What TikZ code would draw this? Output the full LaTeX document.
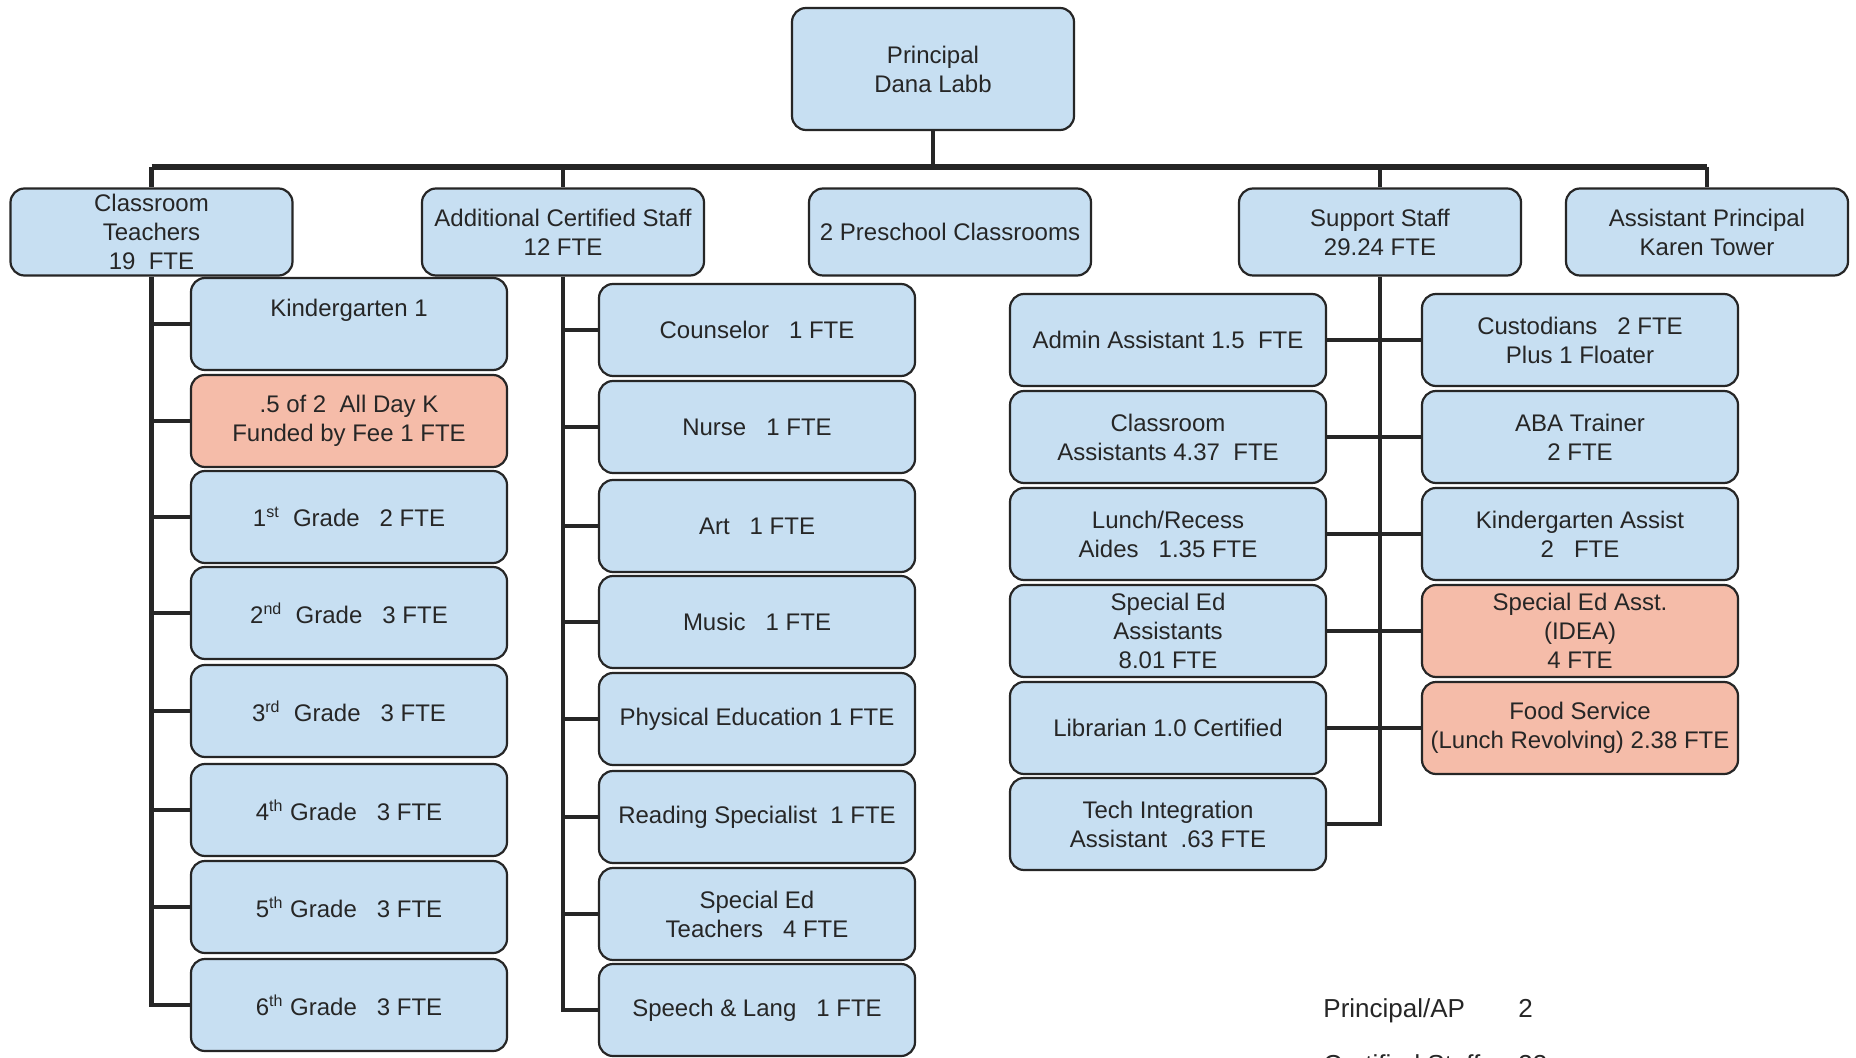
\documentclass[tikz,border=0pt]{standalone}
\usepackage{fontspec}
\setmainfont{Liberation Sans}
\definecolor{boxblue}{HTML}{C7DFF2}
\definecolor{boxsalmon}{HTML}{F5BCA9}
\definecolor{ink}{HTML}{262626}
\tikzset{
  orgbox/.style={draw=ink, line width=1.1pt, fill=boxblue, rounded corners=7pt,
    align=center, inner sep=1pt, text=ink, font=\fontsize{12}{14.5}\selectfont},
  headbox/.style={orgbox, minimum width=141pt, minimum height=43.5pt},
  unitbox/.style={orgbox, minimum width=158pt, minimum height=46pt},
  funded/.style={fill=boxsalmon},
  conn/.style={draw=ink, line width=2.2pt},
  bus/.style={draw=ink, line width=3.4pt},
  tally/.style={anchor=base west, inner sep=0pt, text=ink, font=\fontsize{13}{16}\selectfont},
}
\begin{document}
\begin{tikzpicture}[x=0.5pt, y=-0.5pt]
\fill[white] (0,0) rectangle (1856,1058);
\useasboundingbox (0,0) rectangle (1856,1058);

% principal and the five groups below
\node[orgbox, minimum width=141pt, minimum height=61pt] (prin) at (933,69) {Principal\\Dana Labb};
\node[headbox] (ct)  at (151.5,232) {Classroom\\Teachers\\19~~FTE};
\node[headbox] (acs) at (563,232) {Additional Certified Staff\\12 FTE};
\node[headbox] (pre) at (950,232) {2 Preschool Classrooms};
\node[headbox] (ss)  at (1380,232) {Support Staff\\29.24 FTE};
\node[headbox] (ap)  at (1707,232) {Assistant Principal\\Karen Tower};

% classroom teachers
\node[unitbox, label={[font=\fontsize{12}{14.5}\selectfont, text=ink, yshift=7pt]center:Kindergarten 1}] (k1) at (349,324) {};
\node[unitbox, funded] (k2) at (349,421) {.5 of 2~~All Day K\\Funded by Fee 1 FTE};
\node[unitbox] (g1) at (349,517) {1\textsuperscript{st}~~Grade~~~2 FTE};
\node[unitbox] (g2) at (349,613) {2\textsuperscript{nd}~~Grade~~~3 FTE};
\node[unitbox] (g3) at (349,711) {3\textsuperscript{rd}~~Grade~~~3 FTE};
\node[unitbox] (g4) at (349,810) {4\textsuperscript{th} Grade~~~3 FTE};
\node[unitbox] (g5) at (349,907) {5\textsuperscript{th} Grade~~~3 FTE};
\node[unitbox] (g6) at (349,1005) {6\textsuperscript{th} Grade~~~3 FTE};

% additional certified staff
\node[unitbox] (cou) at (757,330) {Counselor~~~1 FTE};
\node[unitbox] (nur) at (757,427) {Nurse~~~1 FTE};
\node[unitbox] (art) at (757,526) {Art~~~1 FTE};
\node[unitbox] (mus) at (757,622) {Music~~~1 FTE};
\node[unitbox] (pe)  at (757,719) {Physical Education 1 FTE};
\node[unitbox] (rs)  at (757,817) {Reading Specialist~~1 FTE};
\node[unitbox] (set) at (757,914) {Special Ed\\Teachers~~~4 FTE};
\node[unitbox] (sl)  at (757,1010) {Speech \& Lang~~~1 FTE};

% support staff, left side
\node[unitbox] (adm) at (1168,340) {Admin Assistant 1.5~~FTE};
\node[unitbox] (cla) at (1168,437) {Classroom\\Assistants 4.37~~FTE};
\node[unitbox] (lun) at (1168,534) {Lunch/Recess\\Aides~~~1.35 FTE};
\node[unitbox] (sea) at (1168,631) {Special Ed\\Assistants\\8.01 FTE};
\node[unitbox] (lib) at (1168,728) {Librarian 1.0 Certified};
\node[unitbox] (tec) at (1168,824) {Tech Integration\\Assistant~~.63 FTE};

% support staff, right side
\node[unitbox] (cus) at (1580,340) {Custodians~~~2 FTE\\Plus 1 Floater};
\node[unitbox] (aba) at (1580,437) {ABA Trainer\\2 FTE};
\node[unitbox] (kas) at (1580,534) {Kindergarten Assist\\2~~~FTE};
\node[unitbox, funded] (ide) at (1580,631) {Special Ed Asst.\\(IDEA)\\4 FTE};
\node[unitbox, funded] (foo) at (1580,728) {Food Service\\(Lunch Revolving) 2.38 FTE};

% top-level bus
\coordinate (busL) at (151.5,167);
\coordinate (busR) at (1707,167);
\draw[conn] (prin.south) -- (prin.south |- busL);
\draw[bus] (busL) -- (busR);
\draw[conn] (busL) -- (ct.north);
\draw[conn] (acs.north |- busL) -- (acs.north);
\draw[conn] (ss.north |- busL) -- (ss.north);
\draw[conn] (busR) -- (ap.north);

% classroom teacher branches
\draw[conn] (ct.south) |- (g6.west);
\foreach \n in {k1,k2,g1,g2,g3,g4,g5}
  \draw[conn] (ct.south |- \n.west) -- (\n.west);

% certified staff branches
\draw[conn] (acs.south) |- (sl.west);
\foreach \n in {cou,nur,art,mus,pe,rs,set}
  \draw[conn] (acs.south |- \n.west) -- (\n.west);

% support staff branches
\draw[conn] (ss.south) |- (tec.east);
\draw[conn] (adm.east) -- (cus.west);
\draw[conn] (cla.east) -- (aba.west);
\draw[conn] (lun.east) -- (kas.west);
\draw[conn] (sea.east) -- (ide.west);
\draw[conn] (lib.east) -- (foo.west);

% staff totals
\node[tally] (papl) at (1323,1017) {Principal/AP};
\node[tally] (papn) at (1518,1017) {2};
\node[tally] (csl)  at (1323,1073) {Certified Staff};
\node[tally] (csn)  at (1518,1073) {33};
\end{tikzpicture}
\end{document}
